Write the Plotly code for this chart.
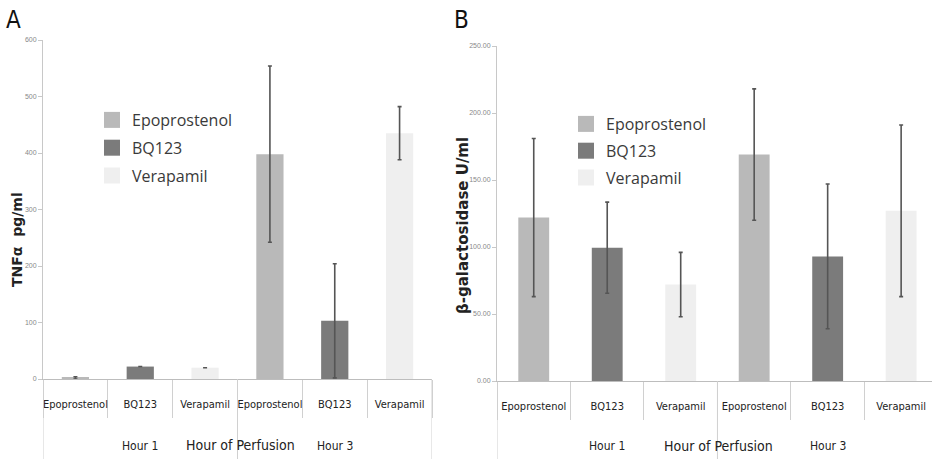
import plotly.graph_objects as go

W, H = 932, 459

# ---- data ----
drugs = ["Epoprostenol", "BQ123", "Verapamil"]
hour_labels = ["Hour 1", "Hour 1", "Hour 1", "Hour 3", "Hour 3", "Hour 3"]
drug_labels = ["Epoprostenol", "BQ123", "Verapamil", "Epoprostenol", "BQ123", "Verapamil"]

tnf_values = [2, 22, 20, 398, 103, 435]
tnf_errors = [2, None, None, 156, 101, 47]

galact_values = [122, 99.5, 72, 169, 93, 127]
galact_errors = [59, 34, 24, 49, 54, 64]

tnf_ticks = [0, 100, 200, 300, 400, 500, 600]
galact_ticks = [0, 50, 100, 150, 200, 250]

drug_colors = {"Epoprostenol": "#b9b9b9", "BQ123": "#7b7b7b", "Verapamil": "#efefef"}


def px_x(p):
    return p / W


def px_y(p):
    return 1 - p / H


COND = "Liberation Sans Narrow, DejaVu Sans Condensed, Arial Narrow, Liberation Sans, sans-serif"
bar_colors = [drug_colors[d] for d in drug_labels]
cat_ids = [f"{h} | {d}" for h, d in zip(hour_labels, drug_labels)]

# group structure derived from the data
groups = []
for i, h in enumerate(hour_labels):
    if not groups or groups[-1][0] != h:
        groups.append([h, []])
    groups[-1][1].append(i)

fig = go.Figure()

for vals, errs, xa, ya in [(tnf_values, tnf_errors, "x", "y"), (galact_values, galact_errors, "x2", "y2")]:
    fig.add_trace(go.Bar(
        x=cat_ids, y=vals,
        marker=dict(color=bar_colors, line=dict(width=0)),
        width=0.42,
        error_y=dict(type="data", array=errs, visible=True, color="#555555", thickness=1.6, width=2),
        xaxis=xa, yaxis=ya, showlegend=False,
    ))

# legend entries (on a hidden axis)
for legname in ["legend", "legend2"]:
    for d in drugs:
        fig.add_trace(go.Scatter(
            x=[None], y=[None], mode="markers", name=d, legendgroup=legname + d,
            marker=dict(symbol="square", size=16, color=drug_colors[d]),
            xaxis="x3", yaxis="y3", legend=legname, showlegend=True,
        ))

xcommon = dict(
    type="category", showline=True, linecolor="#bdbdbd", linewidth=1,
    categoryorder="array", categoryarray=cat_ids,
    tickvals=cat_ids, ticktext=drug_labels,
    ticks="outside", tickson="boundaries", ticklen=38, tickcolor="#d0d0d0",
    tickangle=0, ticklabelstandoff=15,
    tickfont=dict(family=COND, size=11, color="#222222"),
    showgrid=False, zeroline=False, fixedrange=True,
)

ycommon = dict(
    showline=True, linecolor="#c8c8c8", ticks="outside", ticklen=4, tickcolor="#c8c8c8",
    tickfont=dict(family="Liberation Sans, Arial, sans-serif", size=7, color="#888888"),
    showgrid=False, zeroline=False,
)

shapes = []
annotations = []
for xa, ya in [("x", "y"), ("x2", "y2")]:
    # group dividers
    bounds = [groups[0][1][0] - 0.5] + [g[1][-1] + 0.5 for g in groups]
    for b in bounds:
        shapes.append(dict(type="line", xref=xa, yref=f"{ya} domain", x0=b, x1=b, y0=0, y1=-0.3,
                           line=dict(color="#d0d0d0", width=1)))
    # group labels
    for h, idx in groups:
        annotations.append(dict(text=h, x=sum(idx) / len(idx), xref=xa, y=px_y(446), yref="paper",
                                xanchor="center", yanchor="middle", showarrow=False,
                                font=dict(family=COND, size=12, color="#222222")))

annotations += [
    dict(text="A", x=px_x(4), y=px_y(4), xref="paper", yref="paper", xanchor="left", yanchor="top",
         showarrow=False, font=dict(family=COND, size=24, color="#111111")),
    dict(text="B", x=px_x(452), y=px_y(4), xref="paper", yref="paper", xanchor="left", yanchor="top",
         showarrow=False, font=dict(family=COND, size=24, color="#111111")),
    dict(text="<b>TNFα  pg/ml</b>", x=px_x(17), y=px_y(240), xref="paper", yref="paper",
         xanchor="center", yanchor="middle",
         textangle=-90, showarrow=False, font=dict(family="DejaVu Sans, sans-serif", size=14, color="#222222")),
    dict(text="<b>β-galactosidase U/ml</b>", x=px_x(463), y=px_y(226), xref="paper", yref="paper",
         xanchor="center", yanchor="middle",
         textangle=-90, showarrow=False, font=dict(family="DejaVu Sans, sans-serif", size=15, color="#222222")),
    dict(text="Hour of Perfusion", x=px_x(240), y=px_y(445), xref="paper", yref="paper",
         xanchor="center", yanchor="middle",
         showarrow=False, font=dict(family=COND, size=14, color="#222222")),
    dict(text="Hour of Perfusion", x=px_x(718), y=px_y(446), xref="paper", yref="paper",
         xanchor="center", yanchor="middle",
         showarrow=False, font=dict(family=COND, size=14, color="#222222")),
]

legfont = dict(family="Open Sans, DejaVu Sans, sans-serif", size=16, color="#3a3a3a")

fig.update_layout(
    template="none",
    width=W, height=H,
    margin=dict(l=0, r=0, t=0, b=0),
    paper_bgcolor="white", plot_bgcolor="white",
    barmode="overlay",
    xaxis=dict(domain=[px_x(43), px_x(432)], anchor="y", range=[-0.5, 5.5], **xcommon),
    xaxis2=dict(domain=[px_x(497), 1.0], anchor="y2", range=[-0.5, 5.42], **xcommon),
    yaxis=dict(
        domain=[px_y(379), px_y(40)], anchor="x", range=[0, 600],
        tickvals=tnf_ticks, ticktext=[str(t) for t in tnf_ticks], **ycommon,
    ),
    yaxis2=dict(
        domain=[px_y(381), px_y(46)], anchor="x2", range=[0, 250],
        tickvals=galact_ticks, ticktext=[f"{t:.2f}" for t in galact_ticks], **ycommon,
    ),
    xaxis3=dict(domain=[0, 0.01], visible=False, anchor="y3"),
    yaxis3=dict(domain=[0, 0.01], visible=False, anchor="x3"),
    legend=dict(
        x=px_x(92), y=px_y(103), xanchor="left", yanchor="top",
        bgcolor="rgba(0,0,0,0)", font=legfont, tracegroupgap=4, itemsizing="trace",
    ),
    legend2=dict(
        x=px_x(566), y=px_y(107), xanchor="left", yanchor="top",
        bgcolor="rgba(0,0,0,0)", font=legfont, tracegroupgap=3, itemsizing="trace",
    ),
    shapes=shapes,
    annotations=annotations,
)

fig.write_html("out.html")
